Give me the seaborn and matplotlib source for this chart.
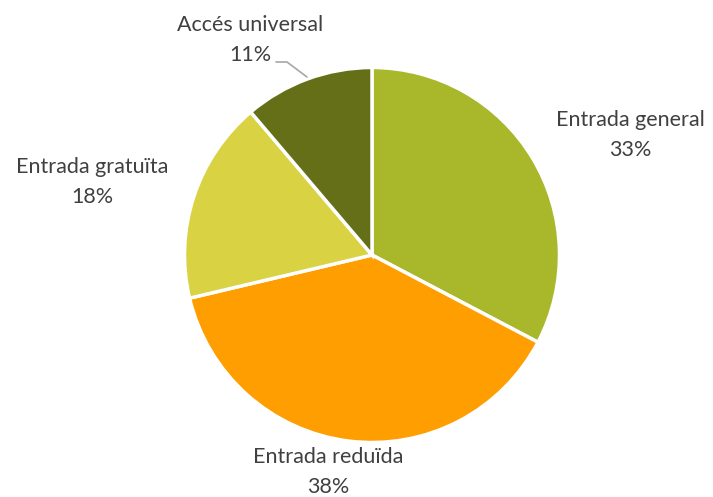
import matplotlib
matplotlib.use("Agg")
import matplotlib.pyplot as plt
import seaborn as sns

categories = ["Entrada general", "Entrada reduïda", "Entrada gratuïta", "Accés universal"]
values = [32.7, 38.6, 17.5, 11.2]
pct_labels = ["33%", "38%", "18%", "11%"]
colors = ["#A8B82A", "#FF9E00", "#D9D243", "#656F18"]

sns.set_theme(style="white")
plt.rcParams['font.family'] = ['Lato', 'DejaVu Sans']

fig = plt.figure(figsize=(7.13, 4.97), dpi=100)
ax = fig.add_axes([0, 0, 1, 1])

ax.pie(values, colors=colors, startangle=90, counterclock=False,
       center=(372, 242), radius=187.5, frame=True,
       wedgeprops=dict(edgecolor="white", linewidth=2.5))

ax.set_xlim(0, 713)
ax.set_ylim(0, 497)
ax.set_aspect("equal")
ax.axis("off")

# label positions (pixel coords, y from top)
label_pos = [(630, 120), (328, 457), (92, 167), (250, 25)]
txt = "#404040"
for name, pct, (x, y) in zip(categories, pct_labels, label_pos):
    ax.text(x, 497 - y, name, ha="center", va="center", fontsize=15.5, color=txt)
    ax.text(x, 497 - y - 30, pct, ha="center", va="center", fontsize=15.5, color=txt)

# leader line for the small slice
ax.plot([276, 287, 307], [497 - 62, 497 - 62, 497 - 77], color="#A6A6A6", lw=1.2)

fig.savefig("out.png", dpi=100)
